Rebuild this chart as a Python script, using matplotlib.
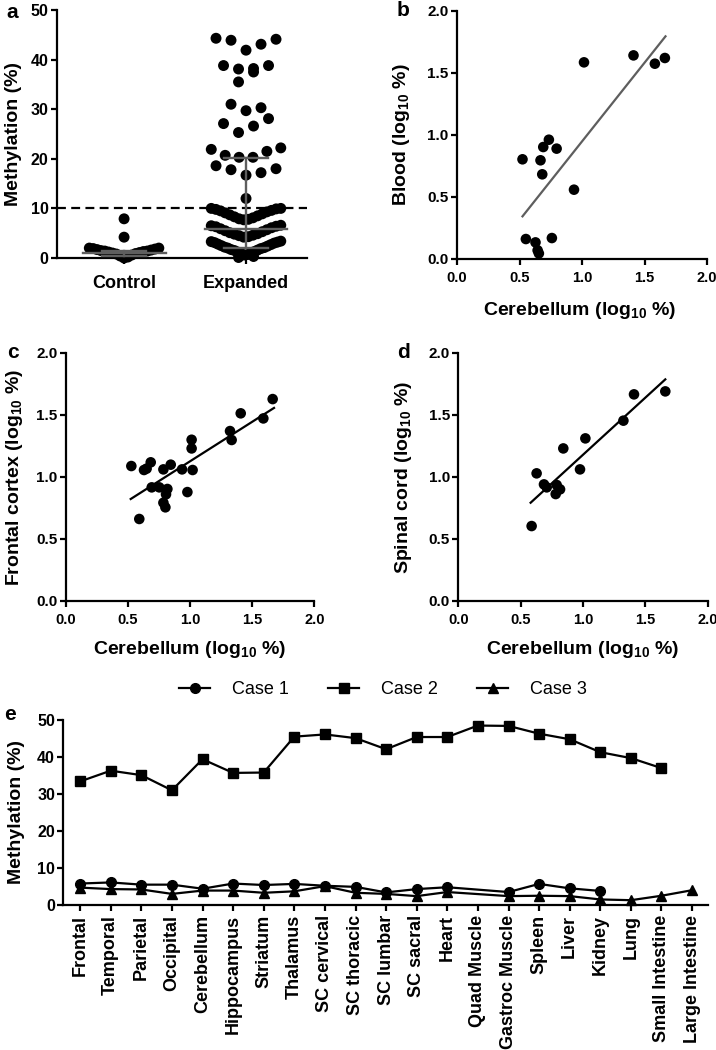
import numpy as np
import matplotlib
matplotlib.use('Agg')
import matplotlib.pyplot as plt

plt.rcParams['font.family'] = ['Liberation Sans', 'DejaVu Sans']
plt.rcParams['font.weight'] = 'bold'
plt.rcParams['mathtext.fontset'] = 'custom'
plt.rcParams['mathtext.rm'] = 'Liberation Sans:bold'
plt.rcParams['mathtext.default'] = 'rm'

# ---- panel a: methylation per group ----
groups = ['Control', 'Expanded']
control = [7.9, 4.2, 2.0, 2.0, 1.9, 1.8, 1.7, 1.6, 1.5, 1.4, 1.4, 1.3, 1.2,
           1.1, 1.0, 0.9, 0.8, 0.6, 0.4, 0.2, 0.0]
expanded = [44.3, 44.1, 43.9, 43.1, 41.9, 38.8, 38.8, 38.2, 38.1, 37.5, 35.5,
            31.0, 30.3, 29.7, 28.1, 27.1, 26.6, 25.3, 22.2, 21.9, 21.5, 20.7,
            20.3, 20.3, 18.6, 18.0, 17.8, 17.2, 16.7, 12.0,
            10.0, 10.0, 9.9, 9.8, 9.6, 9.5, 9.3, 9.1, 8.9, 8.7, 8.5, 8.3, 8.1,
            7.9, 7.8, 7.7,
            6.6, 6.5, 6.4, 6.3, 6.1, 5.9, 5.7, 5.5, 5.3, 5.1, 4.9, 4.8, 4.6,
            4.5, 4.3, 4.2,
            3.4, 3.3, 3.2, 3.1, 3.0, 2.8, 2.7, 2.5, 2.4, 2.2, 2.1, 2.0, 1.9,
            1.7, 1.6, 1.5, 1.3, 1.2, 1.0, 0.9, 0.7, 0.6,
            0.3, 0.1]
median_iqr = {'Control': (1.0, 0.5, 1.5), 'Expanded': (5.8, 2.0, 20.1)}
cutoff = 10

# ---- panels b-d: log10 methylation vs cerebellum ----
blood_x = [0.524, 0.668, 0.682, 0.690, 0.735, 0.797, 0.936, 1.016, 1.412,
           1.583, 1.663, 0.551, 0.628, 0.645, 0.655, 0.759]
blood_y = [0.804, 0.796, 0.683, 0.903, 0.962, 0.890, 0.559, 1.586, 1.642,
           1.575, 1.621, 0.161, 0.134, 0.070, 0.045, 0.169]
blood_fit = (1.269, -0.321, 0.524, 1.668)   # slope, intercept, x from, x to

frontal_x = [0.528, 0.630, 0.651, 0.684, 0.692, 0.753, 0.786, 0.845, 0.818,
             0.807, 0.786, 0.802, 0.592, 0.936, 0.979, 1.013, 1.013, 1.021,
             1.322, 1.335, 1.408, 1.590, 1.665]
frontal_y = [1.086, 1.054, 1.065, 1.116, 0.914, 0.914, 1.059, 1.097, 0.901,
             0.858, 0.790, 0.753, 0.659, 1.059, 0.876, 1.298, 1.228, 1.054,
             1.368, 1.296, 1.511, 1.470, 1.626]
frontal_fit = (0.637, 0.487, 0.523, 1.676)

spinal_x = [0.588, 0.628, 0.687, 0.709, 0.789, 0.816, 0.781, 0.842, 0.976,
            1.019, 1.324, 1.409, 1.660]
spinal_y = [0.602, 1.027, 0.938, 0.914, 0.933, 0.898, 0.860, 1.228, 1.059,
            1.309, 1.452, 1.664, 1.688]
spinal_fit = (0.921, 0.256, 0.580, 1.660)

# ---- panel e: tissues ----
tissues = ['Frontal', 'Temporal', 'Parietal', 'Occipital', 'Cerebellum',
           'Hippocampus', 'Striatum', 'Thalamus', 'SC cervical', 'SC thoracic',
           'SC lumbar', 'SC sacral', 'Heart', 'Quad Muscle', 'Gastroc Muscle',
           'Spleen', 'Liver', 'Kidney', 'Lung', 'Small Intestine',
           'Large Intestine']
nan = np.nan
case1 = [5.8, 6.1, 5.5, 5.5, 4.4, 5.8, 5.4, 5.7, 5.2, 4.9, 3.4, 4.3, 4.8, nan,
         3.5, 5.7, 4.5, 3.8, nan, nan, nan]
case2 = [33.4, 36.3, 35.1, 31.0, 39.4, 35.7, 35.8, 45.5, 46.1, 45.1, 42.1,
         45.4, 45.4, 48.5, 48.4, 46.3, 44.8, 41.3, 39.7, 37.0, nan]
case3 = [4.7, 4.3, 4.2, 3.0, 3.9, 3.9, 3.3, 3.7, 5.1, 3.3, 3.0, 2.4, 3.5, nan,
         2.4, 2.5, 2.4, 1.5, 1.3, 2.5, 4.0]

W, H = 716, 1050
fig = plt.figure(figsize=(W / 100, H / 100), dpi=100)
GRAY = '#5e5e5e'


def px_axes(l, t, r, b):
    return fig.add_axes([l / W, 1 - b / H, (r - l) / W, (b - t) / H])


def ftext(x, y, s, **kw):
    fig.text(x / W, 1 - y / H, s, ha='center', va='center', **kw)


def style(ax, xsize, ysize):
    for side in ['top', 'right']:
        ax.spines[side].set_visible(False)
    for side in ['left', 'bottom']:
        ax.spines[side].set_linewidth(1.6)
    ax.tick_params(width=1.6, length=4, direction='out')
    ax.tick_params(axis='x', labelsize=xsize, pad=3)
    ax.tick_params(axis='y', labelsize=ysize, pad=2)


def swarm_x(values, center, edges, step, half_max):
    values = np.asarray(values, dtype=float)
    xs = np.empty(len(values))
    rows = np.digitize(values, edges)
    for r in np.unique(rows):
        idx = np.where(rows == r)[0]
        idx = idx[np.argsort(values[idx], kind='stable')]
        n = len(idx)
        s = step if n < 2 else min(step, 2 * half_max / (n - 1))
        if n % 2:
            order = [0] + [k * sg for k in range(1, n // 2 + 1) for sg in (1, -1)]
        else:
            order = [(k + 0.5) * sg for k in range(n // 2) for sg in (-1, 1)]
        xs[idx] = center + np.array(order[:n]) * s
    return xs


# panel a
ax = px_axes(57, 10, 307, 258)
style(ax, 13, 11.5)
edges = {'Control': [3, 6],
         'Expanded': [0.5, 3.6, 7.2, 11, 14, 19.5, 24, 29, 33, 37.8, 40]}
for i, (name, vals) in enumerate(zip(groups, [control, expanded])):
    xs = swarm_x(vals, i, edges[name], 0.123, 0.285)
    ax.scatter(xs, vals, s=62, color='black', edgecolor='none', zorder=3,
               clip_on=False)
    med, q1, q3 = median_iqr[name]
    ax.plot([i - 0.34, i + 0.34], [med, med], color=GRAY, lw=1.7, zorder=4)
    ax.plot([i - 0.18, i + 0.18], [q1, q1], color=GRAY, lw=1.7, zorder=4)
    ax.plot([i - 0.18, i + 0.18], [q3, q3], color=GRAY, lw=1.7, zorder=4)
    ax.plot([i, i], [q1, q3], color=GRAY, lw=1.7, zorder=4)
ax.axhline(cutoff, color='black', lw=1.6, ls=(0, (4, 2.4)), zorder=2)
ax.set_xlim(-0.55, 1.5)
ax.set_ylim(0, 50)
ax.set_xticks([0, 1])
ax.set_xticklabels(groups)
ax.set_yticks(range(0, 51, 10))
ax.tick_params(axis='x', pad=8)
ftext(14, 134, 'Methylation (%)', rotation=90, fontsize=14, fontweight='bold')
ftext(12, 12, 'a', fontsize=15, fontweight='bold')

# panels b-d
scatter_panels = [
    ((457, 11, 707, 259), blood_x, blood_y, blood_fit, GRAY,
     'Blood (log$_{10}$ %)', 'b', (402, 135), (403, 10), (580, 310)),
    ((65.7, 352.7, 314.3, 600.7), frontal_x, frontal_y, frontal_fit, 'black',
     'Frontal cortex (log$_{10}$ %)', 'c', (15, 477), (13, 352), (190, 649)),
    ((458.3, 352.7, 707.7, 600.7), spinal_x, spinal_y, spinal_fit, 'black',
     'Spinal cord (log$_{10}$ %)', 'd', (403, 477), (403, 353), (583, 649)),
]
for box, xv, yv, fit, fcol, ylab, tag, ylpos, tagpos, xlpos in scatter_panels:
    ax = px_axes(*box)
    style(ax, 10.5, 11)
    ax.tick_params(axis='x', pad=5)
    ax.scatter(xv, yv, s=58, color='black', edgecolor='none', zorder=3,
               clip_on=False)
    slope, icpt, x0, x1 = fit
    fx = np.array([x0, x1])
    ax.plot(fx, slope * fx + icpt, color=fcol, lw=1.6, zorder=2)
    ax.set_xlim(0, 2)
    ax.set_ylim(0, 2)
    ax.set_xticks(np.arange(0, 2.01, 0.5))
    ax.set_yticks(np.arange(0, 2.01, 0.5))
    ax.xaxis.set_major_formatter(matplotlib.ticker.FormatStrFormatter('%.1f'))
    ax.yaxis.set_major_formatter(matplotlib.ticker.FormatStrFormatter('%.1f'))
    ftext(*ylpos, ylab, rotation=90, fontsize=14, fontweight='bold')
    ftext(*tagpos, tag, fontsize=15, fontweight='bold')
    ftext(*xlpos, 'Cerebellum (log$_{10}$ %)', fontsize=14, fontweight='bold')

# panel e
ax = px_axes(63.3, 720, 708, 905)
style(ax, 13, 11.5)
xpos = np.arange(len(tissues))
for vals, mk, ms, lab in [(case1, 'o', 7, 'Case 1'), (case2, 's', 6.5, 'Case 2'),
                          (case3, '^', 7, 'Case 3')]:
    v = np.array(vals)
    ok = ~np.isnan(v)
    ax.plot(xpos[ok], v[ok], color='black', lw=1.6, marker=mk, ms=ms,
            label=lab, clip_on=False)
ax.set_xlim(-0.55, 20.52)
ax.set_ylim(0, 50)
ax.set_xticks(xpos)
ax.set_xticklabels(tissues, rotation=90)
ax.set_yticks(range(0, 51, 10))
ax.legend(loc='center', bbox_to_anchor=(383 / W, 1 - 690 / H),
          bbox_transform=fig.transFigure, ncol=3, frameon=False,
          handlelength=1.7, columnspacing=2.2, handletextpad=1.2,
          prop={'weight': 'normal', 'size': 13})
ftext(17, 812, 'Methylation (%)', rotation=90, fontsize=14, fontweight='bold')
ftext(10, 715, 'e', fontsize=15, fontweight='bold')

fig.savefig('out.png', dpi=100)
